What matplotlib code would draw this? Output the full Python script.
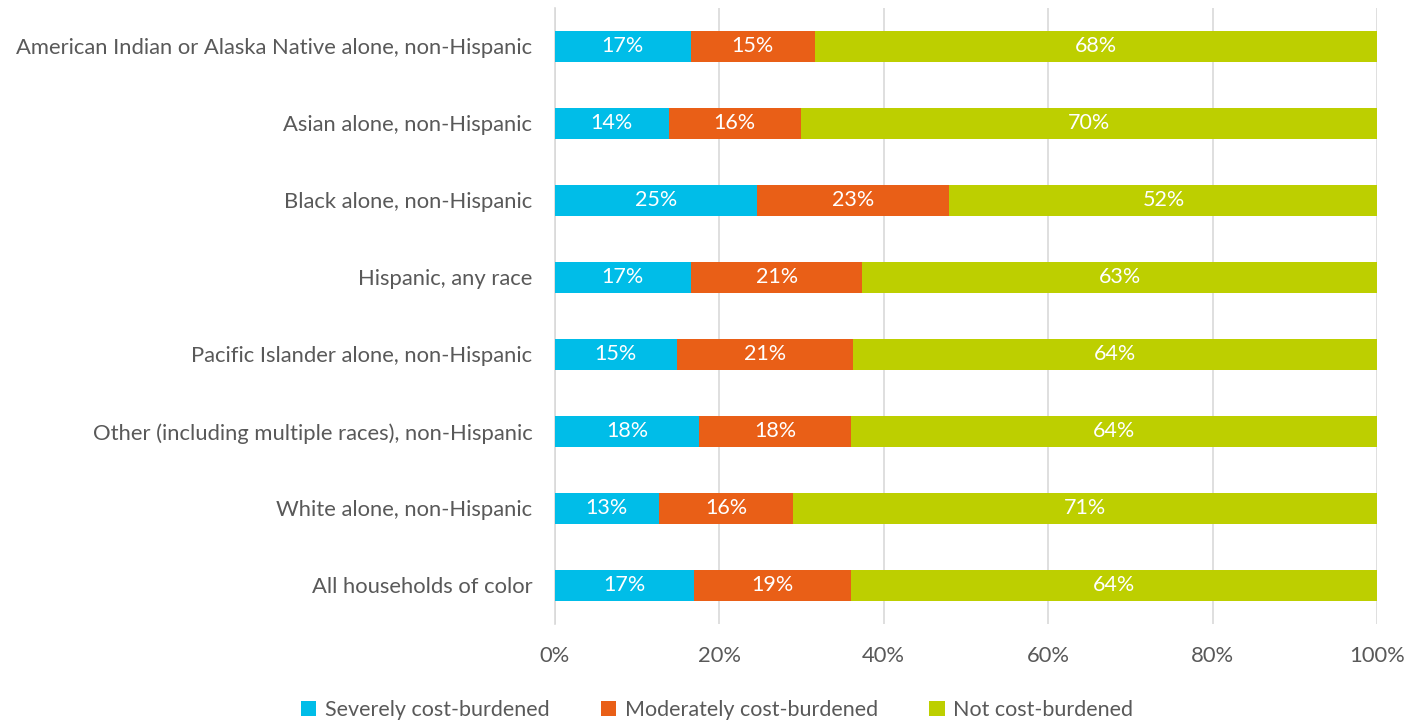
import numpy as np
import matplotlib.pyplot as plt

plt.rcParams['font.family'] = ['Lato', 'DejaVu Sans']

groups = [
    'American Indian or Alaska Native alone, non-Hispanic',
    'Asian alone, non-Hispanic',
    'Black alone, non-Hispanic',
    'Hispanic, any race',
    'Pacific Islander alone, non-Hispanic',
    'Other (including multiple races), non-Hispanic',
    'White alone, non-Hispanic',
    'All households of color',
]
severe = [16.6, 13.9, 24.6, 16.6, 14.9, 17.6, 12.7, 16.9]
moderate = [15.0, 16.0, 23.4, 20.8, 21.4, 18.4, 16.3, 19.1]
not_burdened = [68.4, 70.1, 52.0, 62.6, 63.7, 64.0, 71.0, 64.0]

series_names = ['Severely cost-burdened', 'Moderately cost-burdened', 'Not cost-burdened']
colors = ['#00BDE8', '#E95F17', '#BDCF00']
text_gray = '#595959'

fig = plt.figure(figsize=(14.2, 7.21), dpi=100)
ax = fig.add_axes([0.3905, 0.1345, 0.5795, 0.855])

y = np.arange(len(groups))
left = np.zeros(len(groups))
for vals, name, col in zip([severe, moderate, not_burdened], series_names, colors):
    vals = np.array(vals)
    ax.barh(y, vals, left=left, height=0.4, color=col, label=name, zorder=3)
    for yi, l, v in zip(y, left, vals):
        ax.text(l + v / 2, yi, f'{v:.0f}%', ha='center', va='center',
                color='white', fontsize=15.5, zorder=4)
    left += vals

ax.set_xlim(0, 100)
ax.set_ylim(len(groups) - 0.5, -0.5)
ax.set_xticks(np.arange(0, 101, 20))
ax.set_xticklabels([f'{t}%' for t in range(0, 101, 20)])
ax.set_yticks(y)
ax.set_yticklabels(groups)
ax.tick_params(axis='both', length=0, labelsize=15.8, labelcolor=text_gray)
ax.tick_params(axis='x', pad=16)
ax.tick_params(axis='y', pad=16)
ax.grid(axis='x', color='#D9D9D9', linewidth=1.2, zorder=0)
for s in ['top', 'right', 'bottom']:
    ax.spines[s].set_visible(False)
ax.spines['left'].set_color('#D9D9D9')
ax.spines['left'].set_linewidth(1.2)

fig.legend(loc='lower center', bbox_to_anchor=(0.505, -0.025), ncol=3, frameon=False,
           fontsize=15.5, labelcolor=text_gray, handlelength=0.7, handleheight=0.7,
           handletextpad=0.4, columnspacing=2.4)

fig.savefig('out.png', dpi=100, facecolor='white')
